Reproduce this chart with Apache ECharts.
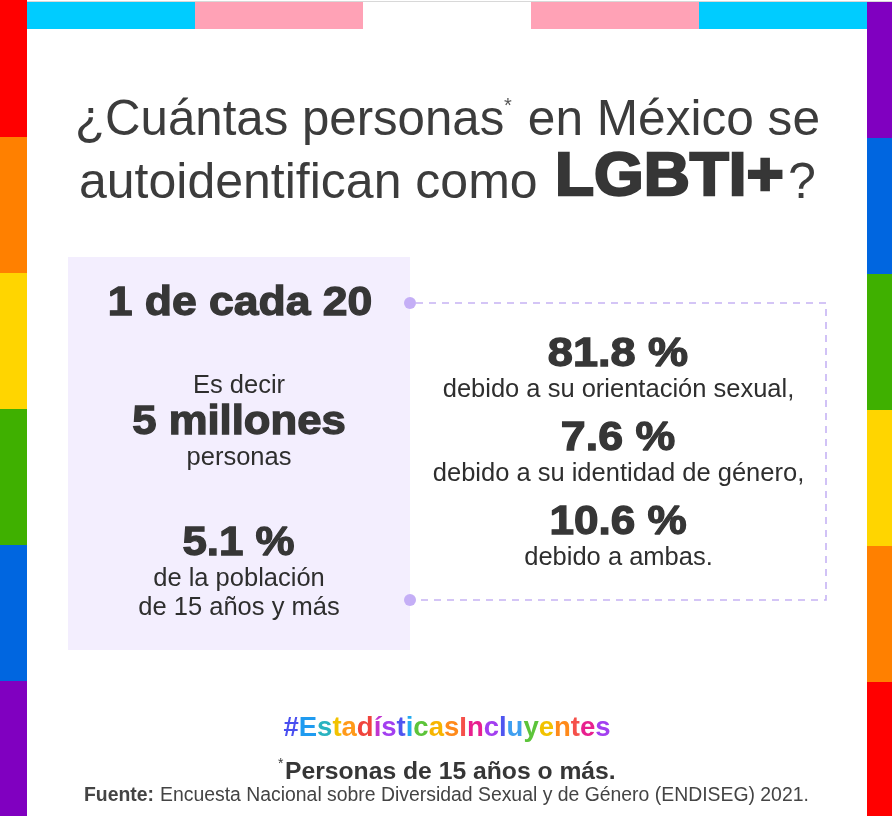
<!DOCTYPE html>
<html><head><meta charset="utf-8">
<style>html,body{margin:0;padding:0;background:#fff}#c{width:892px;height:816px}</style>
<script src="https://cdn.jsdelivr.net/npm/echarts@6/dist/echarts.min.js"></script>
</head><body><div id="c"></div>
<script>
const titleLine1 = "¿Cuántas personas";
const titleLine1b = "en México se";
const titleLine2 = "autoidentifican como";
const titleStrong = "LGBTI+";
const headline = "1 de cada 20";
const leftLead = "Es decir";
const leftBig = "5 millones";
const leftUnit = "personas";
const leftShare = "5.1 %";
const leftNote = ["de la población", "de 15 años y más"];
const shares = ["81.8 %", "7.6 %", "10.6 %"];
const reasons = ["debido a su orientación sexual,", "debido a su identidad de género,", "debido a ambas."];
const hashtag = "#EstadísticasIncluyentes";
const footnote = "Personas de 15 años o más.";
const sourceLabel = "Fuente:";
const sourceText = "Encuesta Nacional sobre Diversidad Sexual y de Género (ENDISEG) 2021.";

const leftColors = ["#ff0000","#ff8000","#ffd500","#3fb000","#0066e0","#8000c0"];
const rightColors = ["#8000c0","#0066e0","#3fb000","#ffd500","#ff8000","#ff0000"];
const topColors = ["#00ccff","#ffa2b6","#ffffff","#ffa2b6","#00ccff"];
const hashColors = ["#4a4ff0","#1f9bf0","#2ab3c0","#f2c200","#ff9a1a","#f0443c","#c035d0","#a33ff0","#4f55f0","#22aaf0","#5cc43a","#f7b500","#ff8a1a","#f5504a","#e8208f","#a33ff0","#4f55f0","#3f9ff0","#5cc43a","#f2c200","#ff8a1a","#f5504a","#e8208f","#a33ff0"];

const FONT = '"Liberation Sans", Arial, sans-serif';
const INK = '#363636';
const BOX = '#f3eefe';
const g = [];
function rect(x,y,w,h,fill){ g.push({type:'rect',shape:{x,y,width:w,height:h},style:{fill}}); }
function text(t,x,y,size,o){ o=o||{};
  g.push({type:'text',x,y,z:5,scaleX:o.sx||1,style:{text:t,font:(o.weight||'normal')+' '+size+'px '+FONT,
    fill:o.fill||INK,textAlign:o.align||'center',textVerticalAlign:'middle',verticalAlign:'middle',
    stroke:o.stroke||null,lineWidth:o.lw||0}});
}
const thin={weight:'normal',fill:'#3c3c3c',stroke:'#ffffff',lw:0.8};
const bodyW={fill:'#2e2e2e',stroke:'#ffffff',lw:0.4};
const bodyL={fill:'#2e2e2e',stroke:BOX,lw:0.4};
rect(0,1,892,1,'#d8d8d8');
const sideY=[0,137,273,409,545,681,816], sideYR=[2,138,274,410,546,682,816];
leftColors.forEach((c,i)=>rect(0,sideY[i],27,sideY[i+1]-sideY[i],c));
rightColors.forEach((c,i)=>rect(867,sideYR[i],25,sideYR[i+1]-sideYR[i],c));
topColors.forEach((c,i)=>rect(27+i*168,2,168,27,c));
rect(68,257,342,393,BOX);
g.push({type:'polyline',shape:{points:[[416,303],[826,303],[826,600],[416,600]]},z:3,
  style:{fill:null,stroke:'#c6b3f4',lineWidth:1.6,lineDash:[7,6]}});
[303,600].forEach(y=>g.push({type:'circle',shape:{cx:410,cy:y,r:6},z:4,style:{fill:'#c4aef6'}}));

text(titleLine1,75,121,49.2,Object.assign({align:'left'},thin));
text('*',504,106,20,{align:'left',fill:'#555'});
text(titleLine1b,820,121,49.6,Object.assign({align:'right'},thin));
text(titleLine2,79,184,50,Object.assign({align:'left'},thin));
text(titleStrong,555,178,62,{align:'left',weight:'bold',stroke:INK,lw:2.4,sx:1.03});
text('?',788,184,50,Object.assign({align:'left'},thin));

const big={weight:'bold',stroke:INK,lw:1.3};
text(headline,240,304,41,Object.assign({sx:1.085},big));
text(leftLead,239,386,25.5,bodyL);
text(leftBig,239,423,41,Object.assign({sx:1.065},big));
text(leftUnit,239,458,25.5,bodyL);
text(leftShare,238.5,544,41,Object.assign({sx:1.07},big));
text(leftNote[0],239,579,25.5,bodyL);
text(leftNote[1],239,608,25.5,bodyL);
const rowY=[355,439,523];
const shareScale=[1.1,1.09,1.075];
shares.forEach((s,i)=>{
  text(s,618,rowY[i],41,Object.assign({sx:shareScale[i]},big));
  text(reasons[i],618.5,rowY[i]+35,25.5,bodyW);
});
const rich={}; let tagStr='';
Array.from(hashtag).forEach((ch,i)=>{ rich['c'+i]={fill:hashColors[i%hashColors.length],font:'bold 27.5px '+FONT}; tagStr+='{c'+i+'|'+ch+'}'; });
g.push({type:'text',x:447,y:728,z:5,style:{text:tagStr,rich,textAlign:'center',textVerticalAlign:'middle',verticalAlign:'middle',font:'bold 27.5px '+FONT}});
text('*',278,764,14,{align:'left'});
text(footnote,285,772,24.7,{align:'left',weight:'bold'});
text(sourceLabel,84,796,19.4,{align:'left',weight:'bold',fill:'#444'});
text(sourceText,160,796,19.4,{align:'left',fill:'#444'});

const chart=echarts.init(document.getElementById('c'),null,{renderer:'canvas'});
chart.setOption({animation:false,backgroundColor:'#fff',graphic:{elements:g}});
</script></body></html>
